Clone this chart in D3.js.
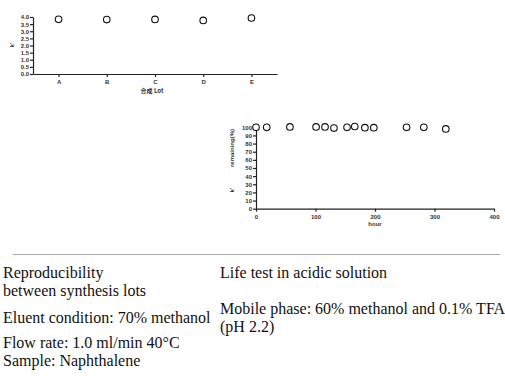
<!DOCTYPE html>
<html>
<head>
<meta charset="utf-8">
<script src="https://cdn.jsdelivr.net/npm/d3@7"></script>
<style>
  body { margin: 0; background: #fff; }
  .tiny text { font-family: "Liberation Sans", Arial, sans-serif; font-size: 6px; font-weight: bold; fill: #333; }
  .tiny path, .tiny line { stroke: #222; stroke-width: 1.2; }
  .note { font-family: "Liberation Serif", "Times New Roman", serif; font-size: 16px; fill: #111; }
</style>
</head>
<body>
<div id="chart"></div>
<script>
// lot reproducibility (k')
const lots = ["A", "B", "C", "D", "E"];
const lotK = [3.84, 3.82, 3.83, 3.76, 3.93];
const kTicks = [0, 0.5, 1, 1.5, 2, 2.5, 3, 3.5, 4];

// life test in acidic solution
const hours = [0, 18, 57, 101, 116, 131, 153, 166, 183, 198, 253, 282, 319];
const remaining = [100, 100, 100.5, 100.5, 100.5, 99, 100, 101, 99.5, 99.5, 100, 100, 98];
const hourTicks = [0, 100, 200, 300, 400];
const remTicks = [0, 10, 20, 30, 40, 50, 60, 70, 80, 90, 100];

const svg = d3.select("#chart").append("svg")
  .attr("width", 505)
  .attr("height", 376);

// ---- chart 1 ----
const g1 = svg.append("g").attr("class", "tiny");

const x1 = d3.scalePoint().domain(lots).range([33, 277]).padding(0.53);
const y1 = d3.scaleLinear().domain([0, 4]).range([74, 17]);

g1.append("g")
  .attr("transform", "translate(0,74)")
  .call(d3.axisBottom(x1).tickSize(3).tickSizeOuter(0).tickPadding(3));

g1.append("g")
  .attr("transform", "translate(33,0)")
  .call(d3.axisLeft(y1).tickValues(kTicks).tickFormat(d3.format(".1f")).tickSize(3).tickSizeOuter(0).tickPadding(1));

g1.append("text")
  .attr("x", 152).attr("y", 93)
  .attr("text-anchor", "middle")
  .style("font-family", "'Noto Sans CJK JP', sans-serif")
  .text("合成 Lot");

g1.append("text")
  .attr("transform", "translate(14,45) rotate(-90)")
  .attr("text-anchor", "middle")
  .text("k'");

g1.append("g").selectAll("circle")
  .data(lots)
  .enter()
  .append("circle")
  .attr("cx", (d) => x1(d))
  .attr("cy", (d, i) => y1(lotK[i]))
  .attr("r", 3.3)
  .attr("fill", "#fff")
  .attr("stroke", "#111")
  .attr("stroke-width", 1.1);

// ---- chart 2 ----
const g2 = svg.append("g").attr("class", "tiny");

const x2 = d3.scaleLinear().domain([0, 400]).range([256, 494]);
const y2 = d3.scaleLinear().domain([0, 100]).range([208.7, 127.3]);

g2.append("g")
  .attr("transform", "translate(0,208.7)")
  .call(d3.axisBottom(x2).tickValues(hourTicks).tickSize(3).tickSizeOuter(0).tickPadding(3));

g2.append("g")
  .attr("transform", "translate(256,0)")
  .call(d3.axisLeft(y2).tickValues(remTicks).tickSize(3).tickSizeOuter(0).tickPadding(1));

g2.append("text")
  .attr("x", 375).attr("y", 226)
  .attr("text-anchor", "middle")
  .text("hour");

g2.append("text")
  .attr("transform", "translate(234,148) rotate(-90)")
  .attr("text-anchor", "middle")
  .text("remaining(%)");

g2.append("text")
  .attr("transform", "translate(234,190) rotate(-90)")
  .attr("text-anchor", "middle")
  .text("k'");

g2.append("g").selectAll("circle")
  .data(hours)
  .enter()
  .append("circle")
  .attr("cx", (d) => x2(d))
  .attr("cy", (d, i) => y2(remaining[i]))
  .attr("r", 3.3)
  .attr("fill", "#fff")
  .attr("stroke", "#111")
  .attr("stroke-width", 1.1);

// ---- notes ----
svg.append("line")
  .attr("x1", 13).attr("x2", 500)
  .attr("y1", 254.5).attr("y2", 254.5)
  .attr("stroke", "#aaa");

const leftNotes = [
  ["Reproducibility", 278],
  ["between synthesis lots", 296],
  ["Eluent condition: 70% methanol", 323],
  ["Flow rate: 1.0 ml/min 40°C", 348],
  ["Sample: Naphthalene", 366],
];
const rightNotes = [
  ["Life test in acidic solution", 278],
  ["Mobile phase: 60% methanol and 0.1% TFA", 314],
  ["(pH 2.2)", 332],
];

svg.append("g").selectAll("text")
  .data(leftNotes)
  .enter()
  .append("text")
  .attr("class", "note")
  .attr("x", 3)
  .attr("y", (d) => d[1])
  .text((d) => d[0]);

svg.append("g").selectAll("text")
  .data(rightNotes)
  .enter()
  .append("text")
  .attr("class", "note")
  .attr("x", 220)
  .attr("y", (d) => d[1])
  .text((d) => d[0]);
</script>
</body>
</html>
